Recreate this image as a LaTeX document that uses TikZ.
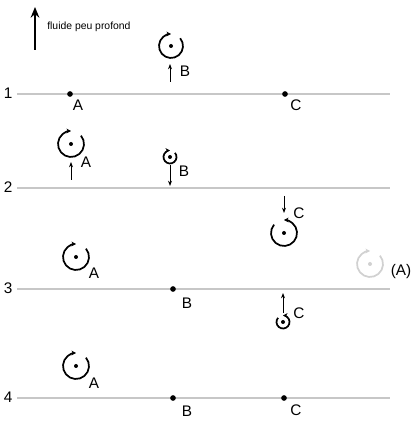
\documentclass[tikz,border=0pt]{standalone}
\usepackage{fontspec}
\setmainfont{Liberation Sans}
\usepackage{tikz}
\usetikzlibrary{arrows.meta, positioning}

\begin{document}
\begin{tikzpicture}
                        [x=0.75pt, y=0.75pt,
                         level/.style={draw=black!22, line width=1.2pt},
                         site/.style={circle, fill, inner sep=1.5pt},
                         lbl/.style={font=\fontsize{11.5}{13}\selectfont, inner sep=1pt},
                         flow/.style={-{Stealth[length=4pt, width=3pt]}, line width=0.6pt},
                         spin/.style={-{Stealth[length=3.4pt, width=3.6pt]}, line width=1.3pt},
                         pics/cwspin/.style={code={
                            \fill (0,0) circle (2);
                            \draw[spin] (40:#1) arc[start angle=40, end angle=-270, radius=#1];}},
                         pics/ccwspin/.style={code={
                            \fill (0,0) circle (2);
                            \draw[spin] (140:#1) arc[start angle=140, end angle=450, radius=#1];}}]

                        \useasboundingbox (0,0) rectangle (413,423);

                        % legend
                        \coordinate (up0) at (35,373);
                        \coordinate (up1) at (35,416);
                        \draw[-{Stealth[length=8pt, width=6.5pt]}, line width=1.5pt] (up0) -- (up1);
                        \node[anchor=west, inner sep=0pt, font=\fontsize{7.8}{9}\selectfont] (legend) at (47,396) {fluide peu profond};

                        % levels
                        \foreach \n/\y in {1/329, 2/235, 3/134, 4/25} {
                            \node[lbl, anchor=east] (num\n) at (14,\y+1) {\n};
                            \coordinate (left\n) at (17,\y);
                            \coordinate (right\n) at (390,\y);
                            \draw[level] (left\n) -- (right\n);
                        }

                        % 1
                        \node[site] (a1) at (70,329) {};
                        \node[lbl] (la1) at (78,318) {A};
                        \node[site] (c1) at (285,329) {};
                        \node[lbl] (lc1) at (296,318) {C};
                        \pic (vb1) at (171,377) {cwspin=12};
                        \coordinate (fb1s) at (170,341);
                        \coordinate (fb1e) at (170,359);
                        \draw[flow] (fb1s) -- (fb1e);
                        \node[lbl] (lb1) at (185,352) {B};

                        % 2
                        \pic (va2) at (71,279) {cwspin=13};
                        \coordinate (fa2s) at (71,243);
                        \coordinate (fa2e) at (71,261);
                        \draw[flow] (fa2s) -- (fa2e);
                        \node[lbl] (la2) at (86,261) {A};
                        \pic (vb2) at (170,266) {cwspin=6.5};
                        \coordinate (fb2s) at (170,258);
                        \coordinate (fb2e) at (170,237);
                        \draw[flow] (fb2s) -- (fb2e);
                        \node[lbl] (lb2) at (184,252) {B};
                        \coordinate (fc2s) at (284,227);
                        \coordinate (fc2e) at (284,210);
                        \draw[flow] (fc2s) -- (fc2e);
                        \node[lbl] (lc2) at (299,210) {C};
                        \pic (vc2) at (284,190) {ccwspin=13};

                        % 3
                        \pic (va3) at (76,166) {cwspin=13};
                        \node[lbl] (la3) at (94,150) {A};
                        \node[site] (b3) at (173,134) {};
                        \node[lbl] (lb3) at (187,120) {B};
                        \begin{scope}[black!18]
                            \pic (vx3) at (370,159) {cwspin=13};
                        \end{scope}
                        \node[lbl] (lx3) at (401,151) {(A)};
                        \coordinate (fc3s) at (283,110);
                        \coordinate (fc3e) at (283,130);
                        \draw[flow] (fc3s) -- (fc3e);
                        \node[lbl] (lc3) at (299,110) {C};
                        \pic (vc3) at (283,101) {ccwspin=6.5};

                        % 4
                        \pic (va4) at (76,57) {cwspin=13};
                        \node[lbl] (la4) at (94,40) {A};
                        \node[site] (b4) at (173,25) {};
                        \node[lbl] (lb4) at (187,12) {B};
                        \node[site] (c4) at (284,25) {};
                        \node[lbl] (lc4) at (296,13) {C};
                    \end{tikzpicture}
\end{document}
